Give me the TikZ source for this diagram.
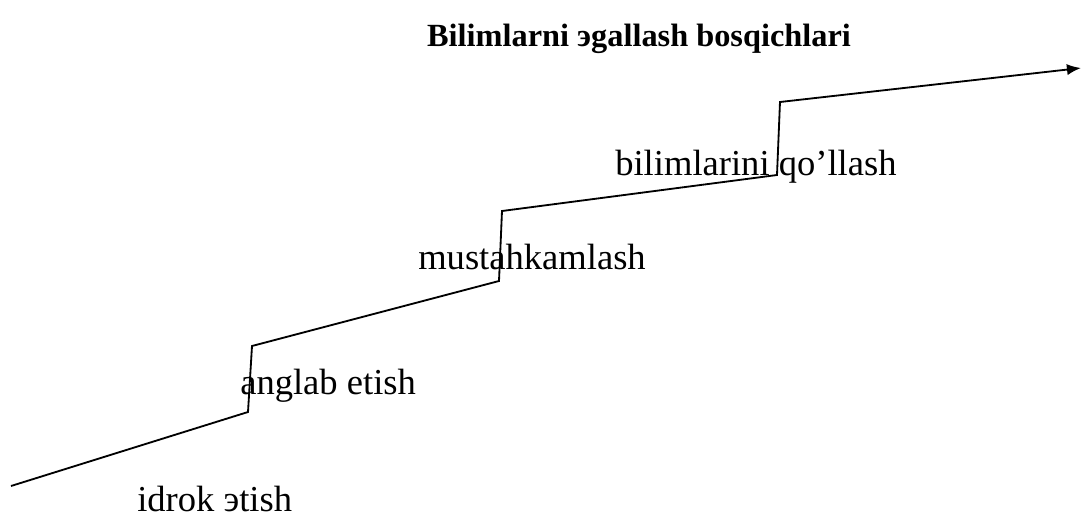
\documentclass[tikz,border=0pt]{standalone}
\usepackage{fontspec}
\setmainfont{Liberation Serif}
\usetikzlibrary{arrows.meta}

\tikzset{
	stage/.style={anchor=base west, inner sep=0pt, font=\fontsize{26}{30}\selectfont},
	title/.style={anchor=base, inner sep=0pt, font=\fontsize{23}{28}\selectfont\bfseries},
	stairs/.style={line width=1.3pt, line join=miter, -{Latex[length=10pt,width=8pt]}}
}

\begin{document}
\begin{tikzpicture}[x=0.025cm, y=-0.025cm]
	\useasboundingbox (0, 0) rectangle (1081, 521);

	\node[title] (head) at (639, 46) {Bilimlarni эgallash bosqichlari};

	% stairs
	\coordinate (s0) at (11, 486);
	\coordinate (s1) at (248, 412);
	\coordinate (s2) at (252, 346);
	\coordinate (s3) at (499, 281);
	\coordinate (s4) at (502, 211);
	\coordinate (s5) at (777, 175);
	\coordinate (s6) at (780, 102);
	\coordinate (s7) at (1081, 68);
	\draw[stairs] (s0) -- (s1) -- (s2) -- (s3) -- (s4) -- (s5) -- (s6) -- (s7);

	\node[stage] (idrok) at (137, 511) {idrok эtish};
	\node[stage] (anglab) at (240, 394) {anglab etish};
	\node[stage] (mustah) at (418, 269) {mustahkamlash};
	\node[stage] (qollash) at (615, 175) {bilimlarini qo’llash};
\end{tikzpicture}
\end{document}
